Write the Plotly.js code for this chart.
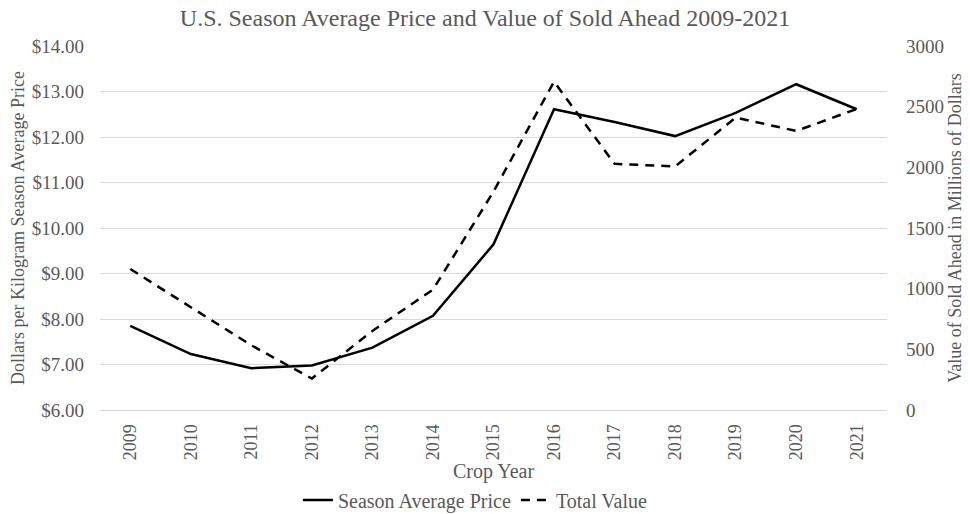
<!DOCTYPE html>
<html>
<head>
<meta charset="utf-8">
<script src="https://cdn.plot.ly/plotly-3.0.1.min.js"></script>
<style>html,body{margin:0;padding:0;background:#fff;}#chart{width:970px;height:514px;}</style>
</head>
<body>
<div id="chart"></div>
<script>
const years = ['2009','2010','2011','2012','2013','2014','2015','2016','2017','2018','2019','2020','2021'];
const seasonAvgPrice = [7.85, 7.23, 6.92, 6.98, 7.37, 8.07, 9.64, 12.61, 12.33, 12.02, 12.53, 13.16, 12.61];
const totalValue = [1162, 848, 533, 259, 652, 992, 1800, 2706, 2029, 2007, 2410, 2300, 2481];

const font = 'Liberation Serif, Times New Roman, serif';
const grey = '#595959';

const traces = [
  {x: years, y: seasonAvgPrice, name: 'Season Average Price', type: 'scatter', mode: 'lines',
   line: {color: '#000', width: 2.5}, yaxis: 'y'},
  {x: years, y: totalValue, name: 'Total Value', type: 'scatter', mode: 'lines',
   line: {color: '#000', width: 2.5, dash: '9px,7px'}, yaxis: 'y2'}
];

const layout = {
  width: 970, height: 514,
  margin: {l: 100, r: 83, t: 46, b: 104, autoexpand: false},
  paper_bgcolor: '#fff', plot_bgcolor: '#fff',
  font: {family: font, color: grey, size: 19},
  title: {text: 'U.S. Season Average Price and Value of Sold Ahead 2009-2021', x: 0.5, xanchor: 'center', y: 0.965, yanchor: 'middle', font: {family: font, size: 24, color: grey}},
  showlegend: true,
  legend: {orientation: 'h', x: 0.477, xanchor: 'center', y: -0.247, yanchor: 'middle', itemwidth: 30, font: {family: font, size: 20, color: grey}, traceorder: 'normal'},
  xaxis: {type: 'category', range: [-0.5, 12.5], tickangle: -90, showgrid: false, zeroline: false, automargin: false,
          showline: true, linecolor: '#d9d9d9', linewidth: 1, ticks: '', ticklabelstandoff: 6,
          tickfont: {family: font, size: 18, color: grey},
          title: {text: 'Crop Year', font: {family: font, size: 20, color: grey}, standoff: 4}},
  yaxis: {range: [6, 14], dtick: 1, tickformat: '$.2f', showgrid: true, gridcolor: '#d9d9d9', gridwidth: 1, automargin: false,
          zeroline: false, showline: false, ticks: '', ticklabelstandoff: 15,
          tickfont: {family: font, size: 19, color: grey},
          title: {text: 'Dollars per Kilogram Season Average Price', font: {family: font, size: 18, color: grey}, standoff: 2}},
  yaxis2: {range: [0, 3000], dtick: 500, overlaying: 'y', side: 'right', showgrid: false, zeroline: false, automargin: false,
          showline: false, ticks: '', ticklabelstandoff: 18,
          tickfont: {family: font, size: 19, color: grey},
          title: {text: 'Value of Sold Ahead in Millions of Dollars', font: {family: font, size: 18, color: grey}, standoff: 5}}
};

Plotly.newPlot('chart', traces, layout, {displayModeBar: false, staticPlot: true});
</script>
</body>
</html>
